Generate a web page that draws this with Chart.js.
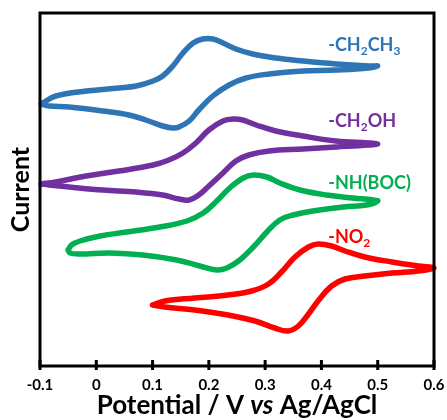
<!DOCTYPE html>
<html>
<head>
<meta charset="utf-8">
<script src="https://cdn.jsdelivr.net/npm/chart.js@4.4.0/dist/chart.umd.min.js"></script>
<style>
  body { margin: 0; background: #fff; }
</style>
</head>
<body>
<canvas id="cvChart" width="447" height="420"></canvas>
<script>
const xTicks = [-0.1, 0, 0.1, 0.2, 0.3, 0.4, 0.5, 0.6];
const xTickLabels = ['-0.1', '0', '0.1', '0.2', '0.3', '0.4', '0.5', '0.6'];

// potential (V) and current (arb. units), traced round each loop:
// forward sweep to the right tip, then back
const ethylV = [-0.098, -0.072, -0.018, 0.040, 0.071, 0.101, 0.118, 0.136, 0.154, 0.172, 0.189, 0.207, 0.225, 0.248, 0.278, 0.319, 0.367, 0.426, 0.484, 0.500,
                0.484, 0.426, 0.367, 0.307, 0.266, 0.236, 0.207, 0.182, 0.165, 0.147, 0.136, 0.118, 0.088, 0.058, 0.012, -0.048, -0.084, -0.098];
const ethylI = [26.2, 27.0, 27.5, 27.8, 28.0, 28.5, 29.0, 30.0, 31.3, 32.3, 32.7, 32.7, 32.3, 31.7, 31.2, 30.8, 30.5, 30.2, 30.0, 30.0,
                29.8, 29.6, 29.5, 29.2, 28.8, 28.1, 27.0, 25.6, 24.5, 23.9, 23.8, 24.0, 24.6, 25.1, 25.5, 25.9, 26.0, 26.2];

const hydroxyV = [-0.098, -0.072, -0.018, 0.040, 0.101, 0.129, 0.154, 0.177, 0.200, 0.225, 0.243, 0.260, 0.284, 0.319, 0.367, 0.426, 0.484, 0.500,
                  0.484, 0.426, 0.367, 0.307, 0.271, 0.248, 0.225, 0.200, 0.182, 0.165, 0.147, 0.118, 0.071, 0.012, -0.048, -0.084, -0.098];
const hydroxyI = [18.2, 18.4, 19.0, 19.5, 20.1, 20.6, 21.3, 22.3, 23.6, 24.5, 24.7, 24.6, 24.1, 23.5, 23.0, 22.5, 22.3, 22.2,
                  22.1, 21.9, 21.7, 21.5, 21.1, 20.5, 19.3, 18.0, 17.1, 16.6, 16.7, 17.1, 17.4, 17.6, 17.9, 18.1, 18.2];

const bocV = [-0.050, -0.044, -0.029, 0.007, 0.054, 0.113, 0.161, 0.190, 0.214, 0.237, 0.261, 0.279, 0.303, 0.326, 0.362, 0.409, 0.456, 0.492, 0.500,
              0.480, 0.439, 0.385, 0.350, 0.326, 0.303, 0.279, 0.255, 0.232, 0.214, 0.184, 0.143, 0.083, 0.024, -0.029, -0.047, -0.050];
const bocI = [11.6, 12.1, 12.5, 13.0, 13.4, 13.9, 14.5, 15.3, 16.5, 17.8, 18.8, 19.1, 18.9, 18.3, 17.6, 17.1, 16.8, 16.6, 16.5,
              16.1, 15.9, 15.5, 15.1, 14.6, 13.4, 11.9, 10.6, 9.8, 9.6, 10.0, 10.6, 11.1, 11.3, 11.2, 11.3, 11.6];

const nitroV = [0.100, 0.122, 0.175, 0.234, 0.276, 0.306, 0.329, 0.353, 0.377, 0.394, 0.418, 0.442, 0.477, 0.525, 0.572, 0.600,
                0.572, 0.525, 0.477, 0.442, 0.418, 0.394, 0.377, 0.359, 0.341, 0.317, 0.282, 0.234, 0.175, 0.122, 0.100];
const nitroI = [6.1, 6.5, 6.8, 7.1, 7.5, 8.2, 9.4, 10.9, 11.9, 12.2, 12.0, 11.5, 10.9, 10.4, 10.0, 9.8,
                9.5, 9.3, 9.0, 8.7, 8.0, 6.5, 5.2, 4.0, 3.5, 3.8, 4.5, 5.1, 5.6, 5.9, 6.1];

// label pieces: even index normal, odd index subscript
const seriesNames = [['-CH', '2', 'CH', '3'], ['-CH', '2', 'OH'], ['-NH(BOC)'], ['-NO', '2']];

const pts = (vs, is) => vs.map((v, i) => ({x: v, y: is[i]}));

const framePlugin = {
    id: 'frame',
    afterDatasetsDraw(chart) {
        const {ctx, chartArea: a, scales: {x}} = chart;
        ctx.save();
        ctx.strokeStyle = '#000';
        ctx.lineWidth = 3;
        ctx.strokeRect(a.left, a.top, a.right - a.left, a.bottom - a.top);
        ctx.beginPath();
        xTicks.forEach(v => {
            const px = x.getPixelForValue(v);
            ctx.moveTo(px, a.bottom - 6);
            ctx.lineTo(px, a.bottom + 4);
        });
        ctx.stroke();

        // x title, with italic "vs"
        const parts = [['Potential / V ', 'bold'], ['vs', 'italic bold'], [' Ag/AgCl', 'bold']];
        let w = 0;
        parts.forEach(p => { ctx.font = p[1] + ' 26px Lato'; w += ctx.measureText(p[0]).width; });
        let px = (a.left + a.right) / 2 - w / 2;
        ctx.fillStyle = '#000';
        ctx.textBaseline = 'alphabetic';
        parts.forEach(p => {
            ctx.font = p[1] + ' 26px Lato';
            ctx.fillText(p[0], px, 414);
            px += ctx.measureText(p[0]).width;
        });
        ctx.restore();
    }
};

const curveLabels = {
    id: 'curveLabels',
    afterDatasetsDraw(chart) {
        const {ctx, scales: {x, y}} = chart;
        ctx.save();
        ctx.textBaseline = 'alphabetic';
        chart.data.datasets.forEach((ds, i) => {
            let px = x.getPixelForValue(ds.labelAt[0]);
            const py = y.getPixelForValue(ds.labelAt[1]);
            ctx.fillStyle = ds.borderColor;
            seriesNames[i].forEach((part, k) => {
                const sub = k % 2 === 1;
                ctx.font = sub ? 'bold 12px Lato' : 'bold 18px Lato';
                ctx.fillText(part, px, sub ? py + 4 : py);
                px += ctx.measureText(part).width;
            });
        });
        ctx.restore();
    }
};

const ctx = document.getElementById('cvChart').getContext('2d');
const cvChart = new Chart(ctx, {
    type: 'scatter',
    data: {
        datasets: [{
            data: pts(ethylV, ethylI),
            borderColor: '#2E75B6',
            labelAt: [0.412, 31.55]
        }, {
            data: pts(hydroxyV, hydroxyI),
            borderColor: '#7030A0',
            labelAt: [0.412, 23.95]
        }, {
            data: pts(bocV, bocI),
            borderColor: '#00B050',
            labelAt: [0.412, 17.7]
        }, {
            data: pts(nitroV, nitroI),
            borderColor: '#FF0000',
            labelAt: [0.412, 12.3]
        }]
    },
    options: {
        responsive: false,
        animation: false,
        layout: {
            padding: {top: 13, right: 13, left: 0, bottom: 0}
        },
        datasets: {
            scatter: {
                showLine: true,
                borderWidth: 5.5,
                pointRadius: 0,
                tension: 0.4,
                borderCapStyle: 'round',
                borderJoinStyle: 'round',
                clip: 6
            }
        },
        plugins: {
            legend: {display: false},
            tooltip: {enabled: false}
        },
        scales: {
            x: {
                type: 'linear',
                min: -0.1,
                max: 0.6,
                afterBuildTicks: s => { s.ticks = xTicks.map(v => ({value: v})); },
                afterFit: s => {
                    s.height = 54;
                    s.paddingLeft = 0;
                    s.paddingRight = 0;
                },
                ticks: {
                    callback: (v, i) => xTickLabels[i],
                    color: '#000',
                    font: {family: 'Lato', size: 15, weight: 'bold'},
                    padding: 10,
                    maxRotation: 0
                },
                grid: {display: false, drawTicks: false},
                border: {display: false}
            },
            y: {
                min: 0,
                max: 35.3,
                afterFit: s => { s.width = 40; },
                ticks: {display: false},
                grid: {display: false, drawTicks: false},
                border: {display: false},
                title: {
                    display: true,
                    text: 'Current',
                    color: '#000',
                    font: {family: 'Lato', size: 25, weight: 'bold'},
                    padding: {top: 6, bottom: 0}
                }
            }
        }
    },
    plugins: [framePlugin, curveLabels]
});
</script>
</body>
</html>
